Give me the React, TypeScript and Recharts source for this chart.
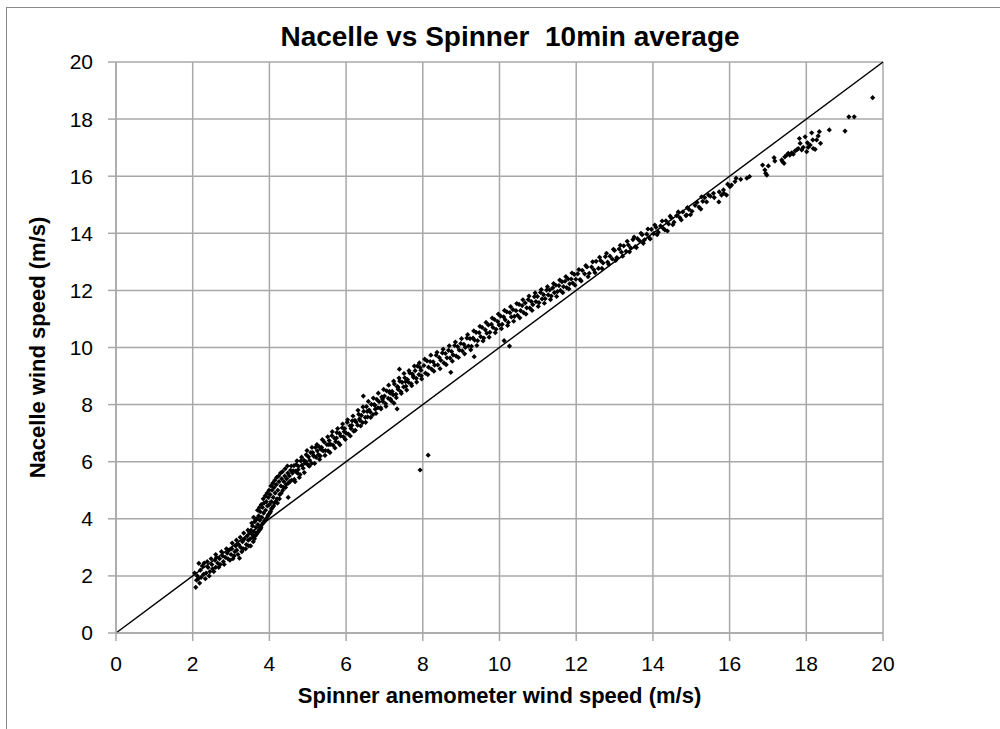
import { CartesianGrid, ReferenceLine, Scatter, ScatterChart, XAxis, YAxis } from "recharts"

// [spinner, nacelle] pairs, grouped by wind range
const lowWind = [
  [2.08, 1.6], [2.1, 1.85], [2.12, 2.0], [2.15, 1.9], [2.16, 2.44], [2.2, 2.2], [2.22, 1.95], [2.28, 2.05],
  [2.3, 2.45], [2.35, 2.1], [2.4, 2.3], [2.45, 2.15], [2.5, 2.4], [2.52, 2.25], [2.58, 2.55], [2.6, 2.3],
  [2.65, 2.45], [2.7, 2.6], [2.72, 2.4], [2.78, 2.7], [2.8, 2.5], [2.85, 2.65], [2.9, 2.8], [2.92, 2.6],
  [2.95, 2.9], [3.0, 2.75], [3.02, 2.95], [3.05, 2.6], [3.1, 2.85], [3.12, 3.05], [3.15, 2.9], [3.2, 3.1],
  [3.22, 2.62], [3.25, 3.0], [3.3, 3.2], [3.32, 2.95], [3.35, 3.3], [3.4, 3.1], [3.42, 3.4], [3.45, 3.25],
  [3.48, 3.5], [2.05, 2.1], [2.18, 1.75], [2.25, 2.35], [2.33, 1.9], [2.38, 2.5], [2.43, 2.0], [2.48, 2.6],
  [2.55, 2.15], [2.62, 2.65], [2.68, 2.3], [2.75, 2.85], [2.82, 2.4], [2.88, 2.95], [2.97, 2.55], [3.03, 3.15],
  [3.08, 2.7], [3.14, 3.25], [3.18, 2.75], [3.24, 3.35], [3.28, 2.85], [3.33, 3.5], [3.38, 2.95], [3.44, 3.6],
  [3.46, 3.05], [2.6, 2.75],
]

const rampUp = [
  [3.5, 3.3], [3.52, 3.6], [3.55, 3.45], [3.56, 3.75], [3.58, 3.2], [3.6, 3.55], [3.62, 3.9], [3.63, 3.4],
  [3.65, 3.7], [3.67, 4.0], [3.68, 3.5], [3.7, 3.8], [3.72, 4.1], [3.73, 3.6], [3.75, 3.95], [3.76, 4.25],
  [3.78, 3.7], [3.8, 4.05], [3.82, 4.4], [3.83, 3.85], [3.85, 4.2], [3.86, 4.55], [3.88, 3.95], [3.9, 4.3],
  [3.92, 4.6], [3.93, 4.0], [3.95, 4.45], [3.97, 4.75], [3.98, 4.15], [4.0, 4.5], [4.02, 4.85], [4.03, 4.25],
  [4.05, 4.6], [4.07, 5.0], [4.08, 4.4], [4.1, 4.75], [4.12, 5.1], [4.13, 4.55], [4.15, 4.9], [4.18, 5.2],
  [4.2, 4.7], [4.22, 5.0], [4.25, 5.3], [4.27, 4.85], [4.3, 5.15], [4.32, 5.4], [4.35, 5.0], [4.38, 5.3],
  [4.4, 5.5], [4.42, 5.1], [4.45, 5.4], [4.48, 5.6], [4.49, 4.75], [4.5, 5.25], [4.52, 5.5], [4.55, 5.7],
  [4.58, 5.35], [4.6, 5.6], [3.51, 3.05], [3.54, 3.85], [3.57, 3.35], [3.59, 4.05], [3.61, 3.3], [3.64, 3.95],
  [3.66, 3.45], [3.69, 4.3], [3.71, 3.55], [3.74, 4.4], [3.77, 3.65], [3.79, 4.5], [3.81, 3.8], [3.84, 4.7],
  [3.87, 3.9], [3.89, 4.8], [3.91, 4.0], [3.94, 4.9], [3.96, 4.1], [3.99, 5.0], [4.01, 4.2], [4.04, 5.15],
  [4.06, 4.35], [4.09, 5.25], [4.11, 4.45], [4.14, 5.35], [4.16, 4.6], [4.19, 5.45], [4.21, 4.55], [4.24, 5.5],
  [4.26, 4.7], [4.29, 5.6], [4.31, 4.9], [4.34, 5.65], [4.37, 5.1], [4.41, 5.75], [4.44, 5.2], [4.47, 5.85],
  [4.53, 5.3], [4.57, 5.85],
]

const midWind = [
  [4.62, 5.68], [4.65, 5.38], [4.68, 5.67], [4.7, 5.9], [4.73, 5.6], [4.76, 5.84], [4.8, 5.55], [4.82, 6.03],
  [4.85, 5.88], [4.88, 5.77], [4.9, 6.05], [4.93, 5.95], [4.96, 6.24], [5.0, 5.9], [5.02, 6.17], [5.05, 6.05],
  [5.08, 6.32], [5.1, 5.94], [5.13, 6.32], [5.16, 6.19], [5.2, 6.5], [5.22, 6.15], [5.25, 6.38], [5.28, 6.25],
  [5.3, 6.52], [5.33, 6.2], [5.36, 6.5], [5.4, 6.38], [5.43, 6.69], [5.46, 6.39], [5.5, 6.6], [5.53, 6.38],
  [5.56, 6.74], [5.6, 6.61], [5.63, 6.91], [5.66, 6.58], [5.7, 6.82], [5.73, 6.7], [5.76, 7.02], [5.8, 6.66],
  [5.83, 6.99], [5.86, 6.9], [5.9, 7.19], [5.93, 6.87], [5.96, 7.16], [6.0, 7.0], [6.03, 7.38], [6.06, 6.97],
  [6.1, 7.26], [6.13, 7.16], [6.16, 7.43], [6.2, 7.07], [6.23, 7.45], [6.26, 7.39], [6.3, 7.28], [6.33, 7.66],
  [6.36, 7.45], [6.4, 7.62], [6.43, 7.37], [6.45, 8.3], [6.46, 7.76], [6.5, 7.55], [6.53, 7.93], [6.56, 7.57],
  [6.6, 7.81], [6.63, 7.74], [6.66, 8.01], [6.7, 7.65], [6.73, 8.0], [6.76, 7.84], [6.8, 8.18], [6.83, 7.89],
  [6.86, 8.1], [6.9, 7.89], [6.93, 8.27], [6.96, 8.11], [7.0, 8.3], [7.03, 8.03], [7.06, 8.48], [7.1, 8.22],
  [7.13, 8.46], [7.16, 8.19], [7.2, 8.46], [7.23, 8.34], [7.25, 8.05], [7.26, 8.72], [7.3, 8.36], [7.33, 7.85],
  [7.34, 8.63], [7.36, 8.53], [7.39, 9.24], [7.4, 8.82], [7.43, 8.45], [7.46, 8.78], [7.5, 8.62], [7.53, 8.94],
  [7.56, 8.64], [7.6, 8.88], [7.63, 8.78], [7.66, 9.11], [7.7, 8.73], [7.73, 9.07], [7.76, 8.95], [7.8, 9.19],
  [7.83, 8.92], [7.86, 9.35], [7.9, 9.05], [7.93, 9.3], [7.96, 9.01],
  [4.64, 5.86], [4.67, 5.3], [4.72, 6.03], [4.78, 5.45], [4.84, 6.16], [4.91, 5.62], [4.98, 6.39], [5.04, 5.84],
  [5.11, 6.5], [5.18, 5.94], [5.24, 6.6], [5.31, 6.08], [5.38, 6.77], [5.45, 6.22], [5.52, 6.87], [5.58, 6.32],
  [5.64, 7.05], [5.71, 6.48], [5.78, 7.16], [5.84, 6.59], [5.91, 7.32], [5.98, 6.78], [6.04, 7.47], [6.11, 6.9],
  [6.18, 7.6], [6.24, 7.1], [6.31, 7.8], [6.38, 7.25], [6.44, 7.92], [6.51, 7.38], [6.58, 8.11], [6.64, 7.55],
  [6.71, 8.23], [6.78, 7.69], [6.84, 8.4], [6.91, 7.85], [6.98, 8.53], [7.04, 7.94], [7.11, 8.68], [7.18, 8.13],
  [7.24, 8.82], [7.31, 8.24], [7.38, 8.93], [7.44, 8.39], [7.51, 9.09], [7.58, 8.51], [7.64, 9.19], [7.71, 8.66],
  [7.78, 9.35], [7.84, 8.79], [7.91, 9.46], [7.97, 8.9],
  [4.75, 5.72], [4.95, 6.0], [5.15, 6.22], [5.35, 6.43], [5.55, 6.6], [5.75, 6.83], [5.95, 7.05], [6.15, 7.27],
  [6.35, 7.5], [6.55, 7.76], [6.75, 7.98], [6.95, 8.2], [7.15, 8.4], [7.35, 8.6], [7.55, 8.8], [7.75, 9.0],
  [7.95, 9.2],
]

const upperWind = [
  [8.03, 9.37], [8.07, 9.1], [8.11, 9.53], [8.15, 9.31], [8.19, 9.51], [8.23, 9.24], [8.27, 9.5], [8.31, 9.38],
  [8.35, 9.73], [8.39, 9.39], [8.43, 9.65], [8.47, 9.55], [8.51, 9.81], [8.55, 9.46], [8.59, 9.79], [8.63, 9.64],
  [8.67, 9.9], [8.71, 9.63], [8.73, 9.13], [8.75, 9.86], [8.79, 9.74], [8.83, 10.07], [8.87, 9.7], [8.91, 10.03],
  [8.95, 9.91], [8.99, 10.14], [9.03, 9.88], [9.07, 10.11], [9.11, 10.0], [9.15, 10.33], [9.19, 10.05], [9.23, 10.31],
  [9.27, 10.04], [9.31, 10.33], [9.34, 9.68], [9.35, 10.26], [9.39, 10.53], [9.43, 10.24], [9.47, 10.52], [9.51, 10.38],
  [9.55, 10.7], [9.59, 10.33], [9.63, 10.62], [9.67, 10.5], [9.71, 10.79], [9.75, 10.53], [9.79, 10.81], [9.83, 10.7],
  [9.87, 10.98], [9.91, 10.64], [9.95, 10.91], [9.99, 10.79], [10.03, 11.1], [10.07, 10.81], [10.11, 11.07], [10.12, 10.24],
  [10.15, 10.97], [10.19, 11.25], [10.23, 10.88], [10.26, 10.05], [10.27, 11.22], [10.31, 11.07], [10.35, 11.33], [10.39, 11.09],
  [10.43, 11.29], [10.47, 11.13], [10.51, 11.51], [10.55, 11.29], [10.59, 11.47], [10.63, 11.22], [10.67, 11.56], [10.71, 11.39],
  [10.75, 11.68], [10.79, 11.38], [10.83, 11.61], [10.87, 11.5], [10.91, 11.78], [10.95, 11.61], [10.99, 11.79], [11.03, 11.57],
  [11.07, 11.93], [11.11, 11.7], [11.15, 11.85], [11.19, 11.71], [11.23, 12.01], [11.27, 11.84], [11.31, 12.02], [11.35, 11.8],
  [11.39, 12.09], [11.43, 11.92], [11.47, 12.18], [11.51, 11.96], [11.55, 12.17], [11.59, 12.0], [11.63, 12.3], [11.67, 12.13],
  [11.71, 12.32], [11.75, 12.1], [11.79, 12.4], [11.83, 12.23], [11.87, 12.4], [11.91, 12.26], [11.95, 12.56], [11.99, 12.39],
  [8.05, 9.59], [8.13, 9.05], [8.21, 9.73], [8.29, 9.17], [8.37, 9.83], [8.45, 9.26], [8.53, 9.94], [8.61, 9.4],
  [8.69, 10.06], [8.77, 9.52], [8.85, 10.19], [8.93, 9.65], [9.01, 10.31], [9.09, 9.78], [9.17, 10.45], [9.25, 9.92],
  [9.33, 10.58], [9.41, 10.07], [9.49, 10.74], [9.57, 10.23], [9.65, 10.88], [9.73, 10.36], [9.81, 11.03], [9.89, 10.52],
  [9.97, 11.17], [10.05, 10.66], [10.13, 11.3], [10.21, 10.77], [10.29, 11.43], [10.37, 10.92], [10.45, 11.54], [10.53, 11.04],
  [10.61, 11.67], [10.69, 11.17], [10.77, 11.8], [10.85, 11.3], [10.93, 11.91], [11.01, 11.44], [11.09, 12.03], [11.17, 11.55],
  [11.25, 12.13], [11.33, 11.68], [11.41, 12.24], [11.49, 11.79], [11.57, 12.36], [11.65, 11.92], [11.73, 12.48], [11.81, 12.05],
  [11.89, 12.61], [11.97, 12.18],
]

const highWind = [
  [12.04, 12.58], [12.1, 12.38], [12.16, 12.7], [12.22, 12.58], [12.28, 12.82], [12.34, 12.6], [12.4, 12.82], [12.46, 12.72],
  [12.52, 13.02], [12.58, 12.77], [12.64, 13.04], [12.7, 12.96], [12.76, 13.18], [12.82, 12.99], [12.88, 13.2], [12.94, 13.1],
  [13.0, 13.4], [13.06, 13.15], [13.12, 13.45], [13.18, 13.34], [13.24, 13.56], [13.3, 13.37], [13.36, 13.59], [13.42, 13.49],
  [13.48, 13.78], [13.54, 13.53], [13.6, 13.81], [13.66, 13.73], [13.72, 13.95], [13.78, 13.77], [13.84, 13.97], [13.9, 13.85],
  [13.96, 14.14], [14.02, 13.99], [14.08, 14.21], [14.14, 14.04], [14.2, 14.26], [14.27, 14.17], [14.34, 14.44], [14.38, 14.08],
  [14.41, 14.33], [14.48, 14.54], [14.55, 14.39], [14.62, 14.62], [14.7, 14.55], [14.78, 14.75], [14.86, 14.62], [14.88, 14.64],
  [14.94, 14.84], [15.02, 14.77], [15.1, 14.98], [15.2, 14.92], [15.27, 15.28], [15.3, 15.12], [15.4, 15.1], [15.45, 15.34],
  [15.5, 15.3], [15.58, 15.4], [15.6, 15.25], [15.72, 15.1], [15.73, 15.45], [15.79, 15.34], [15.84, 15.52], [15.85, 15.4],
  [15.92, 15.34], [15.95, 15.72],
  [12.07, 12.73], [12.13, 12.33], [12.25, 12.87], [12.31, 12.48], [12.43, 13.0], [12.49, 12.62], [12.61, 13.16], [12.67, 12.77],
  [12.79, 13.3], [12.85, 12.91], [12.97, 13.44], [13.03, 13.05], [13.15, 13.58], [13.21, 13.2], [13.33, 13.72], [13.39, 13.35],
  [13.51, 13.87], [13.57, 13.5], [13.69, 14.0], [13.75, 13.65], [13.87, 14.15], [13.93, 13.8], [14.05, 14.29], [14.11, 13.95],
  [14.24, 14.43], [14.31, 14.12], [14.45, 14.6], [14.52, 14.3], [14.66, 14.75], [14.74, 14.47], [14.9, 14.9], [14.98, 14.65],
  [15.15, 15.08], [15.25, 14.85], [15.35, 15.25],
]

const topWind = [
  [16.01, 15.63], [16.05, 15.69], [16.14, 15.81], [16.17, 15.93], [16.29, 15.89], [16.45, 15.93], [16.52, 15.99],
  [16.86, 16.39], [16.92, 16.22], [16.94, 16.1], [16.97, 16.04], [17.01, 16.36], [17.16, 16.65], [17.18, 16.53],
  [17.36, 16.57], [17.38, 16.51], [17.42, 16.45], [17.44, 16.68], [17.49, 16.74], [17.53, 16.8], [17.57, 16.74],
  [17.62, 16.82], [17.66, 16.77], [17.71, 16.89], [17.75, 16.92], [17.79, 16.97], [17.82, 17.32], [17.84, 17.15],
  [17.88, 16.92], [17.92, 17.01], [17.97, 17.38], [18.01, 16.86], [18.03, 17.17], [18.05, 17.01], [18.1, 17.09],
  [18.14, 17.52], [18.17, 17.27], [18.18, 16.97], [18.23, 16.94], [18.27, 17.27], [18.31, 17.41], [18.34, 17.56],
  [18.37, 17.15], [18.6, 17.62], [19.01, 17.58], [19.11, 18.08], [19.25, 18.08], [19.73, 18.75],
]

const outliers = [
  [7.93, 5.71], [8.14, 6.23],
]

const ticks = [0, 2, 4, 6, 8, 10, 12, 14, 16, 18, 20]

const data = [...lowWind, ...rampUp, ...midWind, ...upperWind, ...highWind, ...topWind, ...outliers].map(
  ([spinner, nacelle]) => ({ spinner, nacelle })
)

const font = "'Liberation Sans', Arial, sans-serif"
const gridColor = "#a8a8a8"

function Diamond(props: any) {
  const { cx, cy } = props
  if (cx == null || cy == null) return null
  const r = 2.6
  return <path d={`M${cx},${cy - r}L${cx + r},${cy}L${cx},${cy + r}L${cx - r},${cy}Z`} fill="#000" />
}

export default function App() {
  return (
    <div
      style={{
        position: "absolute",
        left: 0,
        top: 0,
        width: 1000,
        height: 729,
        overflow: "hidden",
        background: "#fff",
        fontFamily: font,
      }}
    >
      <div
        style={{
          position: "absolute",
          left: 6,
          top: 7,
          width: 1200,
          height: 900,
          border: "1px solid #8a8a8a",
        }}
      />
      <div
        style={{
          position: "absolute",
          left: 0,
          top: 20,
          width: 1020,
          textAlign: "center",
          fontSize: 28,
          fontWeight: "bold",
          whiteSpace: "pre",
          lineHeight: "34px",
        }}
      >
        Nacelle vs Spinner  10min average
      </div>
      <div style={{ position: "absolute", left: 0, top: 0 }}>
        <ScatterChart width={1000} height={729} margin={{ top: 62, right: 117, bottom: 0, left: 0 }}>
          <CartesianGrid stroke={gridColor} strokeWidth={1.5} />
          <XAxis
            type="number"
            dataKey="spinner"
            domain={[0, 20]}
            ticks={ticks}
            height={96}
            stroke={gridColor}
            strokeWidth={1.5}
            tickSize={8}
            tickMargin={15}
            tick={{ fill: "#000", fontSize: 21, fontFamily: font }}
            label={{
              value: "Spinner anemometer wind speed (m/s)",
              position: "insideBottom",
              offset: 26,
              style: { fill: "#000", fontSize: 22, fontWeight: "bold", fontFamily: font },
            }}
          />
          <YAxis
            type="number"
            dataKey="nacelle"
            domain={[0, 20]}
            ticks={ticks}
            width={116}
            stroke={gridColor}
            strokeWidth={1.5}
            tickSize={8}
            tickMargin={15}
            tick={{ fill: "#000", fontSize: 21, fontFamily: font }}
            label={{
              value: "Nacelle wind speed (m/s)",
              angle: -90,
              position: "center",
              dx: -21,
              style: { fill: "#000", fontSize: 22, fontWeight: "bold", fontFamily: font, textAnchor: "middle" },
            }}
          />
          <ReferenceLine
            segment={[
              { x: 0, y: 0 },
              { x: 20, y: 20 },
            ]}
            stroke="#000"
            strokeWidth={1.5}
          />
          <Scatter data={data} shape={Diamond} isAnimationActive={false} />
        </ScatterChart>
      </div>
    </div>
  )
}
